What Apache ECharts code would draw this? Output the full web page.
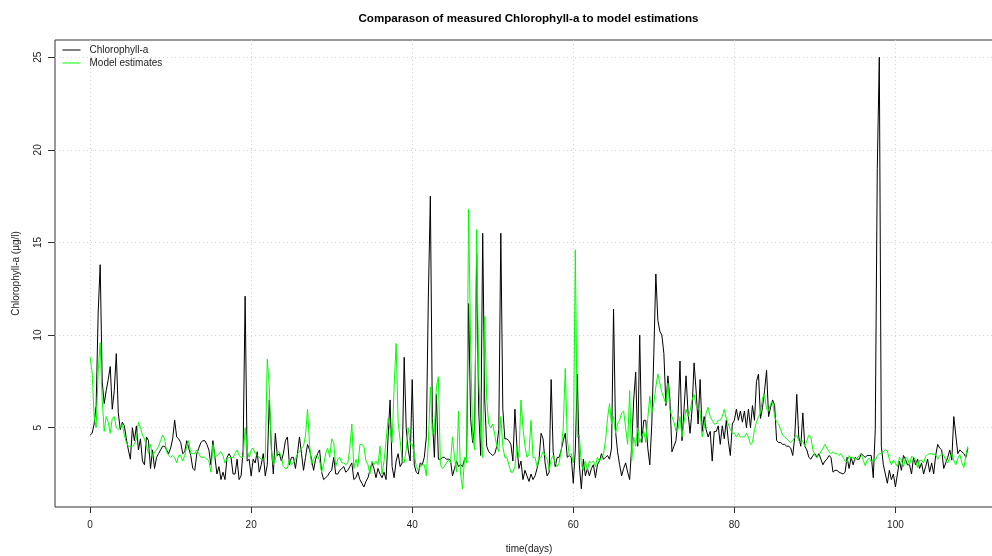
<!DOCTYPE html>
<html><head><meta charset="utf-8">
<script src="https://cdn.jsdelivr.net/npm/echarts@6/dist/echarts.min.js"></script>
<style>html,body{margin:0;padding:0;background:#fff}#chart{width:992px;height:556px}</style>
</head><body><div id="chart"></div>
<script>
const chartTitle = 'Comparason of measured Chlorophyll-a to model estimations';
const seriesNames = ['Chlorophyll-a', 'Model estimates'];
const xName = 'time(days)';
const yName = 'Chlorophyll-a (µg/l)';
const startDay = 0;
const stepDays = 0.25;
const xTicks = [0, 20, 40, 60, 80, 100];
const yTicks = [5, 10, 15, 20, 25];

const measured = [
4.6,4.7,5.2,6.2,11.2,13.8,7.5,6.3,7.0,7.6,8.3,6.0,7.0,9.0,5.8,4.9,5.3,5.1,4.4,3.8,
3.3,5.0,4.3,5.1,3.8,4.4,3.2,3.0,4.5,4.3,2.8,3.8,2.8,3.4,3.6,3.8,4.0,4.0,3.8,3.6,
3.9,4.4,5.4,4.5,4.4,4.2,3.6,3.7,4.3,3.9,3.5,2.8,2.7,3.6,3.9,4.2,4.3,4.3,4.1,3.8,
3.0,4.3,3.4,2.5,2.9,2.2,2.6,2.2,3.4,3.6,3.4,2.5,2.5,3.3,2.2,2.4,3.8,12.1,3.2,3.3,
2.4,3.3,3.1,3.7,2.6,3.0,3.6,2.4,3.0,6.5,4.0,2.5,4.7,3.5,3.6,3.2,3.6,4.3,4.5,3.0,
3.4,3.4,2.8,3.6,4.5,3.6,2.7,3.4,4.1,3.8,3.3,2.7,3.3,3.6,3.8,2.6,2.2,2.3,2.4,2.6,
2.7,3.4,2.5,2.5,2.7,2.8,2.9,2.6,2.7,2.9,3.1,2.2,2.3,2.6,2.2,2.0,1.8,2.1,2.3,2.7,
3.1,2.8,2.3,2.8,2.5,2.3,2.6,2.2,4.5,6.5,2.9,2.3,3.2,3.6,2.9,3.1,8.8,5.0,3.8,3.2,
7.6,3.0,2.6,2.5,3.1,3.0,3.4,4.5,12.0,17.5,5.5,3.4,6.8,3.3,3.3,3.4,3.4,3.3,3.3,3.25,
2.4,2.8,3.2,2.9,3.0,2.9,3.3,3.4,11.7,5.5,4.2,5.0,14.4,6.0,3.5,15.5,6.5,4.0,3.7,3.6,
3.5,3.6,4.0,4.9,15.5,6.0,4.4,4.4,4.3,4.1,3.2,6.0,4.0,2.8,3.2,2.2,2.7,2.4,2.1,2.5,
2.2,2.4,2.8,3.3,4.7,4.4,3.1,2.4,2.6,7.6,3.7,2.9,3.4,3.4,3.8,4.3,4.7,3.4,3.5,3.4,
2.0,3.8,7.9,3.0,1.7,3.3,2.4,2.8,2.4,2.8,3.0,2.3,3.0,3.2,3.6,3.3,3.4,3.5,3.3,3.9,
11.4,4.8,3.7,3.0,2.4,2.8,3.1,2.6,2.2,4.0,6.5,8.0,4.0,10.0,4.2,5.4,5.4,3.9,3.0,5.2,
9.0,13.3,10.8,10.2,10.0,9.0,6.2,7.8,6.5,3.7,4.0,4.3,5.5,8.6,4.3,6.0,7.8,5.8,4.7,6.0,
8.5,7.0,5.2,7.6,4.8,5.6,4.9,4.5,4.8,3.2,4.8,4.8,5.1,4.1,5.1,4.4,5.4,4.3,3.5,5.2,
5.4,6.0,5.4,5.9,5.3,5.9,5.0,6.0,5.0,6.2,5.4,7.5,7.9,5.5,6.1,7.0,8.1,5.6,6.1,6.5,
6.2,4.3,4.2,4.2,4.1,4.1,4.0,4.0,3.9,3.5,4.5,6.8,4.5,4.0,5.8,4.0,3.8,3.4,3.3,3.5,
3.6,3.4,3.6,3.3,3.0,3.2,3.3,3.5,3.4,2.6,2.7,2.7,2.6,2.55,2.5,2.6,3.4,2.8,3.4,3.0,
3.4,3.3,3.3,3.6,3.5,3.4,3.5,3.5,3.5,2.3,4.9,19.0,25.0,4.0,3.0,2.5,2.0,2.7,2.2,2.5,
1.8,2.5,3.2,2.7,3.5,3.3,3.0,3.0,2.5,3.4,3.0,3.3,2.8,3.1,2.5,2.9,3.3,2.6,3.1,2.5,
3.5,4.1,3.9,3.8,2.8,3.1,3.4,3.8,3.25,5.6,4.6,3.6,3.8,3.7,3.6,3.4,3.9
];

const modelEstimates = [
8.8,8.0,5.6,5.0,8.0,9.6,6.5,4.8,5.6,5.3,4.7,5.5,5.6,5.0,4.9,5.0,5.2,4.6,4.2,4.0,
4.0,4.0,4.1,4.4,5.3,5.0,4.6,4.4,4.0,3.6,4.1,3.4,3.7,3.8,4.0,4.3,4.6,4.4,3.7,3.5,
3.4,3.5,3.4,3.1,3.5,3.5,3.2,3.5,4.0,4.3,3.6,3.6,3.6,3.8,3.6,3.4,3.4,3.4,3.3,3.2,
2.6,4.1,3.4,3.5,3.6,3.7,3.5,3.1,3.3,3.4,3.4,3.4,3.6,3.8,3.5,3.4,3.4,5.0,3.8,3.4,
3.8,3.9,3.6,3.5,3.4,3.3,3.3,3.4,8.7,7.2,3.8,3.0,3.3,3.7,3.7,3.4,2.9,2.8,2.8,3.3,
3.0,3.1,3.3,3.6,3.7,3.9,4.0,4.6,6.0,4.1,3.0,3.3,3.5,3.5,3.2,2.6,3.0,3.6,3.9,3.4,
4.4,4.2,2.9,3.3,3.4,3.1,3.1,3.0,3.1,3.9,5.2,2.8,3.3,2.9,4.1,4.1,4.0,3.2,3.0,2.5,
3.2,3.0,3.2,3.0,4.0,2.5,3.2,4.3,5.5,4.9,4.2,7.2,9.55,5.3,4.3,3.2,3.1,3.8,5.0,4.1,
4.1,3.6,2.9,2.7,2.9,3.0,3.0,2.4,4.2,7.2,4.6,4.8,7.2,7.75,3.0,2.8,2.9,3.1,3.25,3.1,
4.5,3.4,2.6,5.9,2.5,1.7,3.4,3.1,16.8,9.5,4.5,3.8,15.7,8.0,4.6,3.4,11.0,6.5,5.2,5.0,
5.2,4.6,4.0,3.7,5.6,4.0,3.4,3.4,3.0,2.6,2.6,2.9,4.0,3.4,6.5,5.0,4.0,3.4,3.6,5.4,
3.4,3.4,2.9,3.4,3.4,3.7,3.5,3.3,2.7,3.3,3.5,3.1,2.9,3.1,3.8,5.0,8.2,4.4,3.5,3.6,
3.1,14.6,4.5,4.6,3.0,2.7,3.2,2.7,3.2,3.1,3.2,2.9,3.4,3.2,3.4,3.6,4.3,5.5,6.3,5.2,
5.6,4.7,5.2,5.4,5.8,5.9,5.0,4.1,7.0,3.2,4.5,4.0,5.0,4.2,4.5,4.8,4.2,5.5,6.7,5.8,
6.3,7.2,7.9,7.4,6.9,6.6,6.3,7.4,6.0,5.6,5.3,4.8,4.9,5.6,4.5,5.3,6.0,5.6,5.9,6.5,
6.8,6.2,6.0,5.9,4.5,5.0,5.8,6.1,5.6,5.4,5.2,5.2,5.4,5.4,5.6,6.0,5.5,5.2,4.9,4.7,
4.7,4.5,4.7,4.5,4.5,4.5,4.7,4.5,4.1,4.2,4.9,5.3,5.6,5.8,6.6,6.8,6.0,5.9,6.3,6.4,
5.6,5.3,5.2,4.9,4.6,4.5,4.4,4.3,4.2,4.3,4.5,4.6,4.3,4.2,4.3,4.0,4.3,4.6,4.5,3.8,
3.5,3.4,3.5,3.7,3.9,4.1,3.9,3.7,3.6,3.7,3.6,3.6,3.5,3.6,3.4,3.2,3.15,3.5,3.35,3.4,
3.25,3.35,3.5,3.6,3.25,2.95,3.25,3.35,3.15,3.3,3.25,3.5,3.6,3.6,3.7,3.8,3.75,3.3,3.0,3.25,
3.1,2.9,3.4,3.25,2.9,3.4,3.35,3.0,3.45,3.4,3.2,2.85,3.25,3.25,3.1,3.45,3.55,3.6,3.6,3.55,
3.55,3.3,3.45,3.6,3.5,3.25,3.1,3.4,3.6,3.25,3.0,3.35,3.55,3.1,2.85,3.5,4.0
];

const toPairs = arr => arr.map((v, i) => [startDay + i * stepDays, v]);
const font = "'Liberation Sans', Arial, sans-serif";
const txt = { fontFamily: font, fontSize: 10, color: '#222' };

const chart = echarts.init(document.getElementById('chart'), null, { renderer: 'canvas' });
chart.setOption({
  animation: false,
  backgroundColor: '#ffffff',
  title: {
    text: chartTitle, left: 523.5, top: 8, textAlign: 'center',
    textStyle: { fontFamily: font, fontSize: 11.6, fontWeight: 'bold', color: '#000' }
  },
  legend: {
    orient: 'vertical', left: 62, top: 45, padding: 0,
    itemWidth: 18, itemHeight: 11, itemGap: 3,
    itemStyle: { opacity: 0 },
    lineStyle: { width: 1 },
    textStyle: Object.assign({}, txt, { padding: [0, 0, 0, 4] }),
    data: seriesNames
  },
  grid: { left: 55, width: 948, top: 40, bottom: 49, show: true, borderColor: '#333', borderWidth: 1,
          containLabel: false, outerBoundsMode: 'none' },
  xAxis: {
    type: 'value', min: -4.36, max: 113.36,
    name: xName, nameLocation: 'middle', nameGap: 37, nameTextStyle: txt,
    axisLine: { show: false, onZero: false },
    axisTick: { show: true, customValues: xTicks, length: 6, lineStyle: { color: '#333' } },
    axisLabel: Object.assign({ customValues: xTicks, margin: 13 }, txt),
    splitLine: { show: true, lineStyle: { color: '#d3d3d3', type: [1, 3], width: 1 } }
  },
  yAxis: {
    type: 'value', min: 0.72, max: 25.93,
    name: yName, nameLocation: 'middle', nameGap: 34, nameTextStyle: txt,
    axisLine: { show: false, onZero: false },
    axisTick: { show: true, customValues: yTicks, length: 7, lineStyle: { color: '#333' } },
    axisLabel: Object.assign({ customValues: yTicks, margin: 12, rotate: 90 }, txt),
    splitLine: { show: true, lineStyle: { color: '#d3d3d3', type: [1, 3], width: 1 } }
  },
  series: [
    { name: seriesNames[0], type: 'line', data: toPairs(measured), symbol: 'none', showSymbol: false,
      lineStyle: { color: '#000000', width: 1 }, itemStyle: { color: '#000000' } },
    { name: seriesNames[1], type: 'line', data: toPairs(modelEstimates), symbol: 'none', showSymbol: false,
      lineStyle: { color: '#00ff00', width: 1 }, itemStyle: { color: '#00ff00' } }
  ]
});
</script>
</body></html>
